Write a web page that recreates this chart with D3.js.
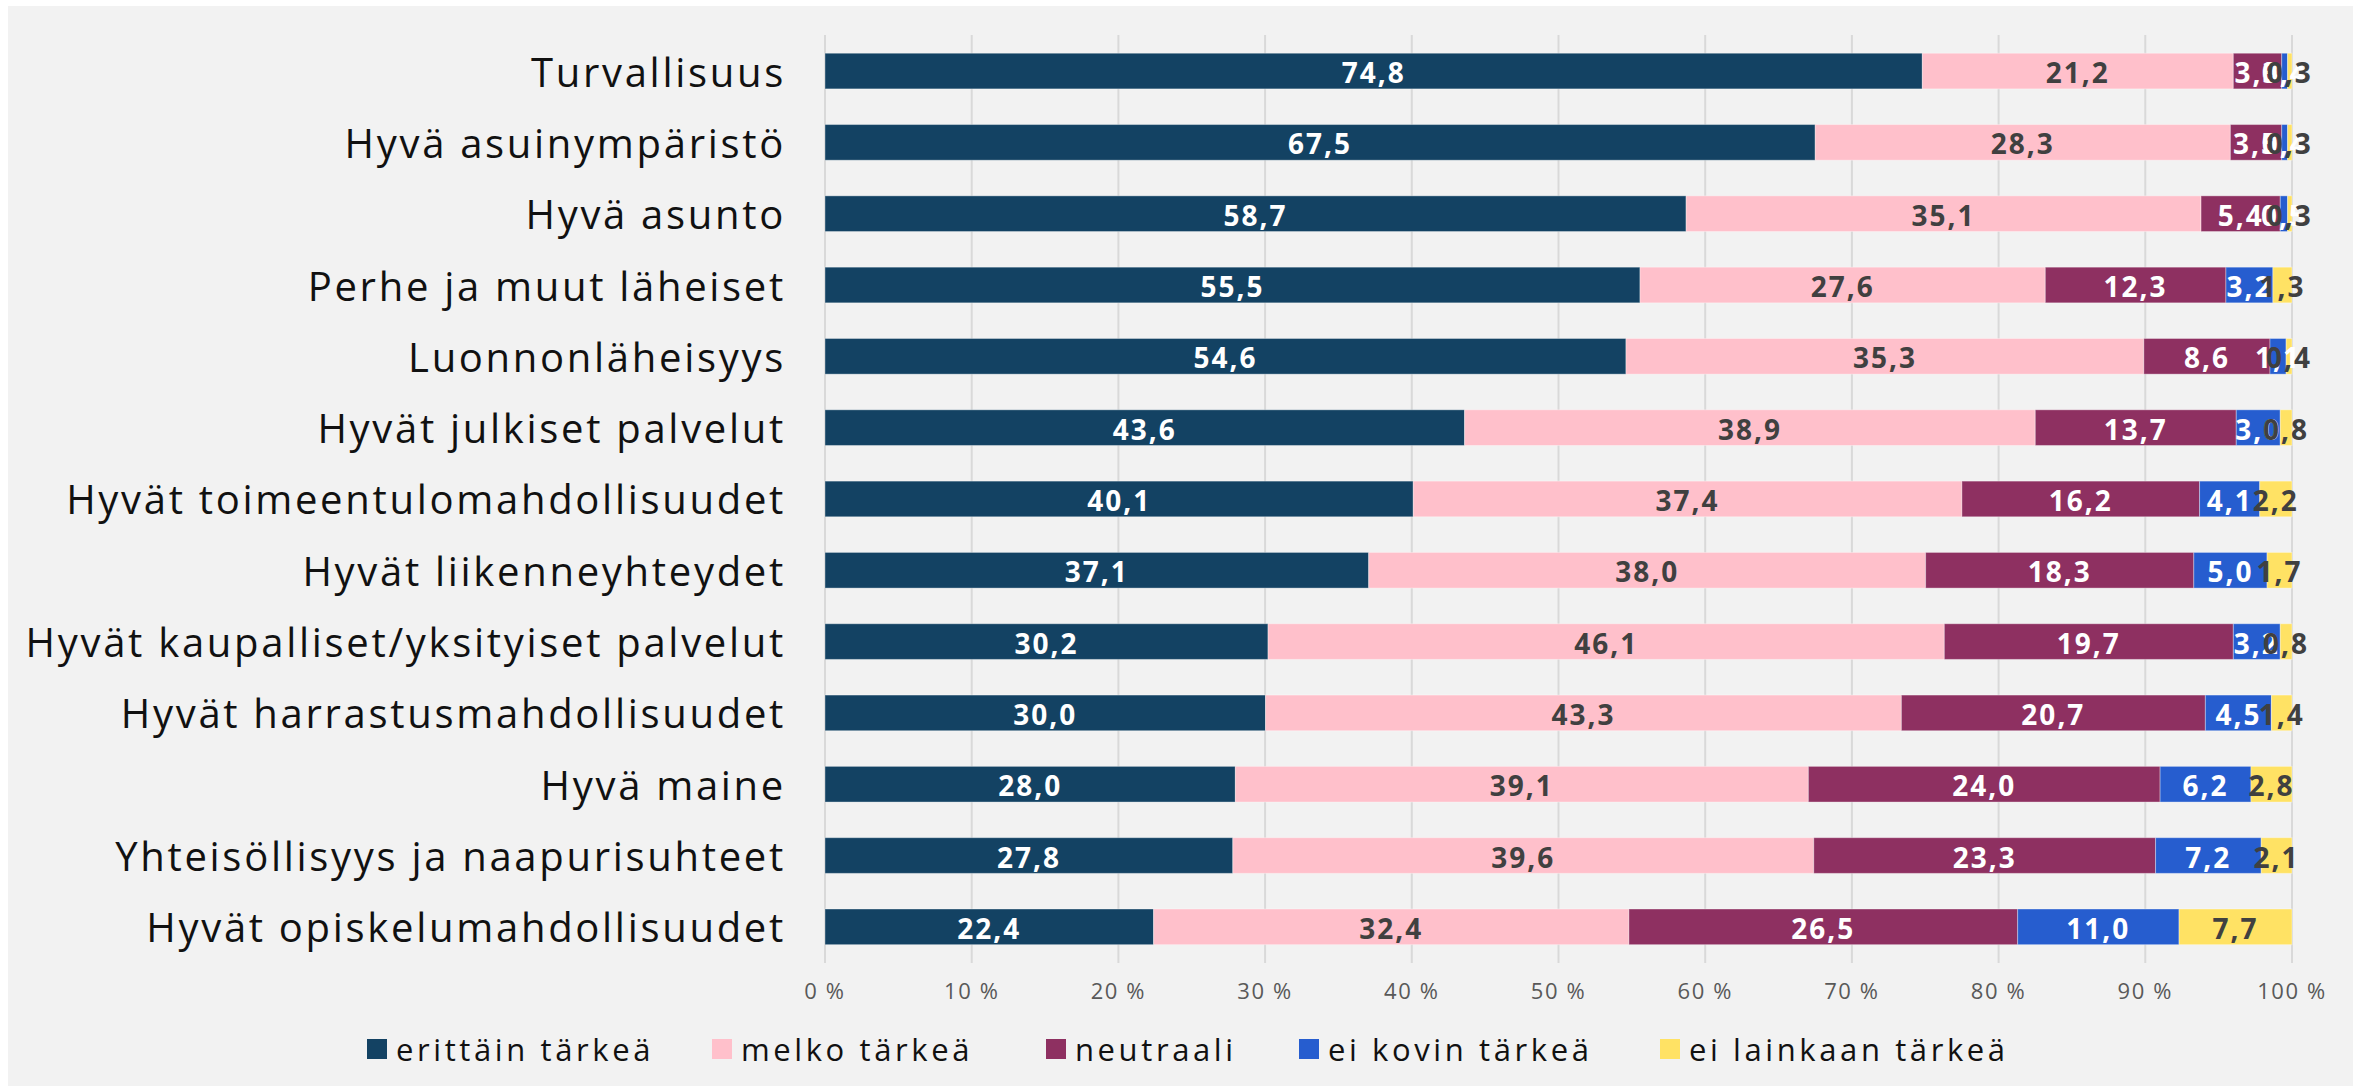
<!DOCTYPE html>
<html>
<head>
<meta charset="utf-8">
<script src="https://cdn.jsdelivr.net/npm/d3@7"></script>
<style>
  body { margin: 0; background: #fff; }
  svg { display: block; }
</style>
</head>
<body>
<div id="chart"></div>
<script>
const categories = [
  "Turvallisuus",
  "Hyvä asuinympäristö ",
  "Hyvä asunto",
  "Perhe ja muut läheiset",
  "Luonnonläheisyys",
  "Hyvät julkiset palvelut",
  "Hyvät toimeentulomahdollisuudet",
  "Hyvät liikenneyhteydet",
  "Hyvät kaupalliset/yksityiset palvelut",
  "Hyvät harrastusmahdollisuudet",
  "Hyvä maine",
  "Yhteisöllisyys ja naapurisuhteet",
  "Hyvät opiskelumahdollisuudet"
];

const seriesNames = ["erittäin tärkeä", "melko tärkeä", "neutraali", "ei kovin tärkeä", "ei lainkaan tärkeä"];

const erittain = [74.8, 67.5, 58.7, 55.5, 54.6, 43.6, 40.1, 37.1, 30.2, 30.0, 28.0, 27.8, 22.4];
const melko = [21.2, 28.3, 35.1, 27.6, 35.3, 38.9, 37.4, 38.0, 46.1, 43.3, 39.1, 39.6, 32.4];
const neutraali = [3.3, 3.5, 5.4, 12.3, 8.6, 13.7, 16.2, 18.3, 19.7, 20.7, 24.0, 23.3, 26.5];
const eiKovin = [0.4, 0.4, 0.5, 3.2, 1.1, 3.0, 4.1, 5.0, 3.2, 4.5, 6.2, 7.2, 11.0];
const eiLainkaan = [0.3, 0.3, 0.3, 1.3, 0.4, 0.8, 2.2, 1.7, 0.8, 1.4, 2.8, 2.1, 7.7];

const tickValues = [0, 10, 20, 30, 40, 50, 60, 70, 80, 90, 100];

const colors = ["#134263", "#ffc0cb", "#8e3061", "#265dcf", "#ffe264"];
const labelColors = ["#ffffff", "#404040", "#ffffff", "#ffffff", "#404040"];

const W = 2366, H = 1088;
const FONT = "'Open Sans', sans-serif";

const svg = d3.select("#chart").append("svg")
  .attr("width", W).attr("height", H);

// background panel
svg.append("rect")
  .attr("x", 8).attr("y", 6)
  .attr("width", 2345).attr("height", 1080)
  .attr("fill", "#f2f2f2");

const allSeries = [erittain, melko, neutraali, eiKovin, eiLainkaan];

// rows as objects, normalised to 100 % like a 100 % stacked bar
const rows = categories.map((c, i) => {
  const row = { name: c };
  let total = 0;
  allSeries.forEach((s) => (total += s[i]));
  seriesNames.forEach((k, j) => {
    row[k] = allSeries[j][i];
    row[k + "_pct"] = (allSeries[j][i] / total) * 100;
  });
  return row;
});

const x = d3.scaleLinear().domain([0, 100]).range([825, 2292]);
const y = d3.scaleBand().domain(categories).range([35.4, 962.5])
  .paddingInner(0.5).paddingOuter(0.25);

// gridlines
svg.append("g")
  .selectAll("line")
  .data(tickValues)
  .join("line")
  .attr("x1", (d) => x(d)).attr("x2", (d) => x(d))
  .attr("y1", 35).attr("y2", 963)
  .attr("stroke", "#d9d9d9")
  .attr("stroke-width", 2);

// tick labels
svg.append("g")
  .selectAll("text")
  .data(tickValues)
  .join("text")
  .attr("x", (d) => x(d))
  .attr("y", 990)
  .attr("text-anchor", "middle")
  .attr("dominant-baseline", "central")
  .attr("font-family", FONT)
  .attr("font-size", 22)
  .attr("letter-spacing", 1.6)
  .attr("fill", "#595959")
  .text((d) => d + " %");

const stack = d3.stack().keys(seriesNames.map((k) => k + "_pct"));
const stacked = stack(rows);

const layers = svg.append("g")
  .selectAll("g")
  .data(stacked)
  .join("g")
  .attr("fill", (d, i) => colors[i]);

layers.selectAll("rect")
  .data((d) => d)
  .join("rect")
  .attr("x", (d) => x(d[0]))
  .attr("y", (d) => y(d.data.name))
  .attr("width", (d) => x(d[1]) - x(d[0]))
  .attr("height", y.bandwidth())
  .attr("stroke", "rgba(255,255,255,0.35)")
  .attr("stroke-width", 1);

// value labels
stacked.forEach((layer, i) => {
  svg.append("g")
    .selectAll("text")
    .data(layer)
    .join("text")
    .attr("x", (d) => (x(d[0]) + x(d[1])) / 2)
    .attr("y", (d) => y(d.data.name) + y.bandwidth() / 2 + 1)
    .attr("text-anchor", "middle")
    .attr("dominant-baseline", "central")
    .attr("font-family", FONT)
    .attr("font-weight", 700)
    .attr("font-size", 28)
    .attr("letter-spacing", 2)
    .attr("fill", labelColors[i])
    .text((d) => d3.format(".1f")(d.data[seriesNames[i]]).replace(".", ","));
});

// category labels
svg.append("g")
  .selectAll("text")
  .data(categories)
  .join("text")
  .attr("x", 786)
  .attr("y", (d) => y(d) + y.bandwidth() / 2)
  .attr("text-anchor", "end")
  .attr("dominant-baseline", "central")
  .attr("font-family", FONT)
  .attr("font-size", 40)
  .attr("letter-spacing", 2.7)
  .attr("fill", "#111")
  .text((d) => d);

// legend
const legend = svg.append("g");
const legendX = [367, 712, 1046, 1299, 1660];
seriesNames.forEach((name, i) => {
  legend.append("rect")
    .attr("x", legendX[i]).attr("y", 1039)
    .attr("width", 20).attr("height", 20)
    .attr("fill", colors[i]);
  legend.append("text")
    .attr("x", legendX[i] + 29).attr("y", 1049)
    .attr("dominant-baseline", "central")
    .attr("font-family", FONT)
    .attr("font-size", 31)
    .attr("letter-spacing", 3.6)
    .attr("fill", "#111")
    .text(name);
});
</script>
</body>
</html>
